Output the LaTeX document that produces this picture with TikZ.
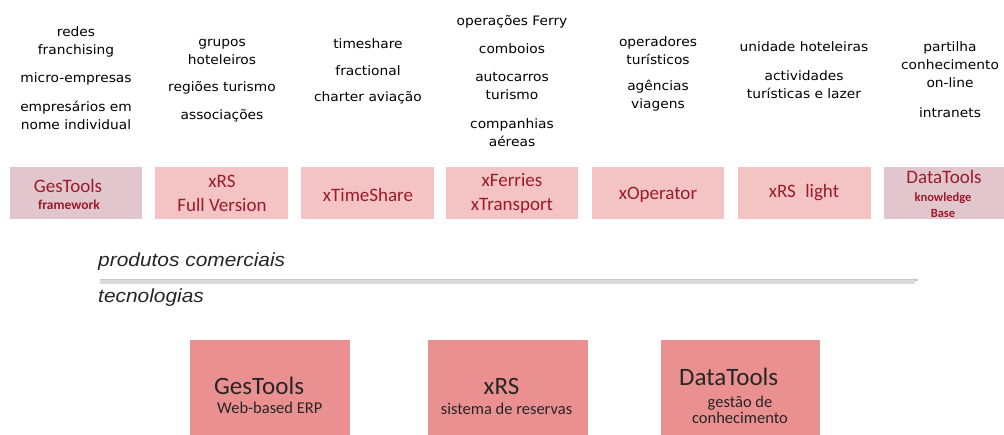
\documentclass[tikz,border=0pt]{standalone}
\usepackage{fontspec}
\setmainfont[FakeStretch=1.06]{DejaVu Sans}
\newfontfamily\boxfont{Carlito}
\newfontfamily\labfont[FakeStretch=1.1]{Liberation Sans}
\definecolor{prodfill}{HTML}{F4C4C4}
\definecolor{fwfill}{HTML}{E2C6CE}
\definecolor{techfill}{HTML}{EA9090}
\definecolor{prodtext}{HTML}{9B1B2A}
\tikzset{
  item/.style={font=\fontsize{13}{18}\selectfont, align=center, inner sep=0pt, text=black},
  prod/.style={fill=prodfill, draw=none, inner sep=0pt},
  fw/.style={fill=fwfill, draw=none, inner sep=0pt},
  prodlab/.style={font=\boxfont\fontsize{19}{24}\selectfont, text=prodtext, align=center, inner sep=0pt},
  smalllab/.style={font=\boxfont\bfseries\fontsize{13.5}{16}\selectfont, text=prodtext, align=center, inner sep=0pt},
  tech/.style={fill=techfill, draw=none, inner sep=0pt},
  techbig/.style={font=\boxfont\fontsize{25}{26}\selectfont, text=black!85, inner sep=0pt},
  techsmall/.style={font=\boxfont\fontsize{16.5}{16}\selectfont, text=black!85, align=center, inner sep=0pt},
  section/.style={font=\labfont\itshape\fontsize{19}{20}\selectfont, text=black!85, anchor=west, inner sep=0pt}
}
\begin{document}
\begin{tikzpicture}[x=1pt,y=-1pt]
\useasboundingbox (0,0) rectangle (1004,435);
% column texts
\node[item] (c1a) at (76,42) {redes\\franchising};
\node[item] (c1b) at (76,79) {micro-empresas};
\node[item] (c1c) at (76,115) {empresários em\\nome individual};
\node[item] (c2a) at (222,52) {grupos\\hoteleiros};
\node[item] (c2b) at (222,88) {regiões turismo};
\node[item] (c2c) at (222,116) {associações};
\node[item] (c3a) at (368,44) {timeshare};
\node[item] (c3b) at (368,71) {fractional};
\node[item] (c3c) at (368,98) {charter aviação};
\node[item] (c4a) at (512,22) {operações Ferry};
\node[item] (c4b) at (512,49) {comboios};
\node[item] (c4c) at (512,86.5) {autocarros\\turismo};
\node[item] (c4d) at (512,132.5) {companhias\\aéreas};
\node[item] (c5a) at (658,51) {operadores\\turísticos};
\node[item] (c5b) at (658,96) {agências\\viagens};
\node[item] (c6a) at (804,47) {unidade hoteleiras};
\node[item] (c6b) at (804,85) {actividades\\turísticas e lazer};
\node[item] (c7a) at (950,65) {partilha\\conhecimento\\on-line};
\node[item] (c7b) at (950,113) {intranets};
% product boxes
\path[fw]   (10,167)  rectangle (142,219);
\path[prod] (155,167) rectangle (288,219);
\path[prod] (301,167) rectangle (434,219);
\path[prod] (446,167) rectangle (578,219);
\path[prod] (592,167) rectangle (724,219);
\path[prod] (738,167) rectangle (871,219);
\path[fw]   (884,167) rectangle (1004,219);
\node[prodlab] (p1) at (68,186) {GesTools};
\node[smalllab] (p1s) at (69,205) {framework};
\node[prodlab] (p2) at (222,193) {xRS\\Full Version};
\node[prodlab] (p3) at (368,195) {xTimeShare};
\node[prodlab] (p4) at (512,193) {xFerries\\xTransport};
\node[prodlab] (p5) at (658,195) {xOperator};
\node[prodlab] (p6) at (804,193) {xRS\enspace light};
\node[prodlab] (p7) at (944,177) {DataTools};
\node[smalllab, font=\boxfont\bfseries\fontsize{12.5}{16}\selectfont] (p7s) at (943,205) {knowledge\\Base};
% separator
\node[section] (prodc) at (98,262) {produtos comerciais};
\node[section] (techn) at (98,298) {tecnologias};
\coordinate (sepL) at (100,282);
\coordinate (sepR) at (918,282);
\draw[line width=2pt, black!22] ([yshift=1.5pt]sepL) -- ([yshift=1.5pt]sepR);
\draw[line width=3.5pt, black!14] (sepL) -- ([xshift=-3pt]sepR);
% technology boxes
\path[tech] (190,340) rectangle (350,435);
\path[tech] (428,340) rectangle (588,435);
\path[tech] (661,340) rectangle (820,435);
\node[techbig, anchor=west] (t1) at (214,386) {GesTools};
\node[techsmall, anchor=west] (t1s) at (217,408) {Web-based ERP};
\node[techbig] (t2) at (501.5,386) {xRS};
\node[techsmall] (t2s) at (506.5,409) {sistema de reservas};
\node[techbig, anchor=west] (t3) at (679,377) {DataTools};
\node[techsmall] (t3s) at (740,410) {gestão de\\conhecimento};
\end{tikzpicture}
\end{document}
